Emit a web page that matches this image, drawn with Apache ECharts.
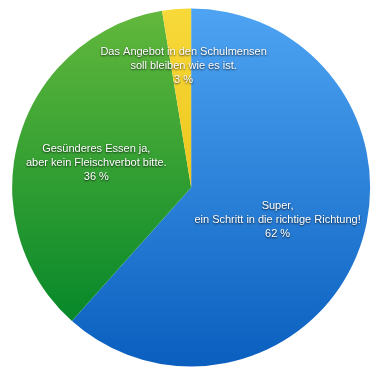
<!DOCTYPE html>
<html>
<head>
<meta charset="utf-8">
<script src="https://cdn.jsdelivr.net/npm/echarts@6/dist/echarts.min.js"></script>
<style>
  html, body { margin: 0; padding: 0; background: #fff; }
  #chart { width: 380px; height: 378px; }
</style>
</head>
<body>
<div id="chart"></div>
<script>
// Antworten (Umfrage Schulmensa)
const answers = [
    'Super,\nein Schritt in die richtige Richtung!',
    'Gesünderes Essen ja,\naber kein Fleischverbot bitte.',
    'Das Angebot in den Schulmensen\nsoll bleiben wie es ist.'
];
const shares = [61.6, 35.8, 2.6];
const percentLabels = ['62 %', '36 %', '3 %'];

const grad = (top, bottom) => new echarts.graphic.LinearGradient(0, 0, 0, 1, [
    {offset: 0, color: top},
    {offset: 1, color: bottom}
]);
const colors = [
    grad('#4ea4f2', '#0a5fbf'),
    grad('#62b83c', '#07882a'),
    grad('#f7d93a', '#eec61c')
];

const chart = echarts.init(document.getElementById('chart'));

chart.setOption({
    animation: false,
    series: [{
        type: 'pie',
        center: ['50.3%', '49.6%'],
        radius: 179,
        startAngle: 90,
        clockwise: true,
        silent: true,
        itemStyle: {borderWidth: 0},
        label: {
            position: 'inside',
            color: '#fff',
            fontFamily: 'Liberation Sans, Arial, sans-serif',
            fontSize: 11,
            lineHeight: 14,
            align: 'center',
            textShadowColor: 'rgba(0,0,0,0.8)',
            textShadowBlur: 2,
            textShadowOffsetY: 1,
            formatter: p => answers[p.dataIndex] + '\n' + percentLabels[p.dataIndex]
        },
        labelLayout: p => p.dataIndex === 2 ? {dy: -29} : (p.dataIndex === 1 ? {dx: -6, dy: 1} : {}),
        data: shares.map((v, i) => ({
            value: v,
            name: answers[i],
            itemStyle: {color: colors[i]}
        }))
    }]
});
</script>
</body>
</html>
